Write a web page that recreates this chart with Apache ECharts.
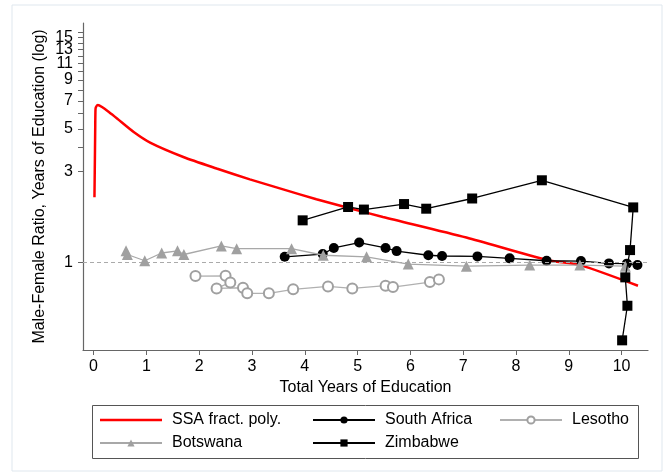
<!DOCTYPE html>
<html>
<head>
<meta charset="utf-8">
<script src="https://cdn.jsdelivr.net/npm/echarts@6/dist/echarts.min.js"></script>
<style>
  html, body { margin: 0; padding: 0; background: #fff; }
  #chart { width: 670px; height: 475px; }
</style>
</head>
<body>
<div id="chart"></div>
<script>
// values
const xTicks = [0, 1, 2, 3, 4, 5, 6, 7, 8, 9, 10];
// the top labels overlap each other, so they are split over twin axes
const yLabels = [1, 3, 5, 7, 9];
const yLabelsB = [11, 15];
const yLabelsC = [13];
const yTicks = [1, 3, 4, 5, 6, 7, 8, 9, 10, 11, 12, 13, 14, 15, 16];

const ssaX = [0.017, 0.027, 0.032, 0.036, 0.042, 0.08, 0.16, 0.29, 0.445, 0.76, 1.08, 1.70, 2.33, 2.96, 3.59, 4.22, 4.85, 5.48, 7.06, 8.58, 9.21, 10.31];
const ssaY = [2.19, 3.86, 5.22, 6.25, 6.46, 6.66, 6.5, 6.12, 5.66, 4.81, 4.22, 3.56, 3.10, 2.72, 2.41, 2.14, 1.92, 1.73, 1.35, 1.03, 0.968, 0.755];

const saX = [3.62, 4.34, 4.55, 5.03, 5.53, 5.74, 6.34, 6.60, 7.27, 7.88, 8.58, 9.23, 9.76, 10.10, 10.30];
const saY = [1.07, 1.105, 1.19, 1.27, 1.19, 1.146, 1.09, 1.08, 1.075, 1.05, 1.02, 1.016, 0.988, 0.985, 0.97];

const lesX = [1.93, 2.50, 2.59, 2.33, 2.83, 2.91, 3.32, 3.78, 4.44, 4.90, 5.53, 5.67, 6.37, 6.54];
const lesY = [0.848, 0.851, 0.786, 0.731, 0.737, 0.689, 0.689, 0.723, 0.749, 0.731, 0.755, 0.743, 0.789, 0.815];

const botX = [0.615, 0.64, 0.97, 1.29, 1.59, 1.71, 2.42, 2.71, 3.75, 4.35, 5.17, 5.96, 7.06, 8.26, 9.21, 10.07];
const botY = [1.15, 1.10, 1.02, 1.12, 1.15, 1.10, 1.22, 1.18, 1.18, 1.09, 1.07, 0.98, 0.956, 0.968, 0.968, 0.956];

const zimX = [3.96, 4.82, 5.12, 5.88, 6.30, 7.17, 8.49, 10.22, 10.16, 10.07, 10.11, 10.01];
const zimY = [1.66, 1.95, 1.89, 2.02, 1.91, 2.16, 2.69, 1.94, 1.16, 0.835, 0.593, 0.391];

const zip = (xs, ys) => xs.map((x, i) => [x, ys[i]]);
const font = "'Liberation Sans', Arial, sans-serif";

const chart = echarts.init(document.getElementById('chart'));

const legendBase = {
  orient: 'vertical',
  top: 411,
  padding: 0,
  itemWidth: 62,
  itemHeight: 9,
  itemGap: 5,
  textStyle: { fontFamily: font, fontSize: 16, lineHeight: 18, color: '#000', padding: [0, 0, 0, 5] },
  selectedMode: false
};

const yLabelStyle = {
  margin: 10, showMinLabel: true, showMaxLabel: true,
  fontFamily: font, fontSize: 16, color: '#000'
};

// twin log axis that only carries labels
const labelAxis = (values) => ({
  type: 'log',
  min: 0.348,
  max: 17.9,
  position: 'left',
  axisLine: { show: false, onZero: false },
  axisTick: { show: false },
  axisLabel: Object.assign({ customValues: values }, yLabelStyle),
  splitLine: { show: false },
  minorTick: { show: false }
});

chart.setOption({
  animation: false,
  grid: { left: 83, right: 22, top: 23, bottom: 125 },
  legend: [
    Object.assign({}, legendBase, {
      left: 99,
      data: [
        { name: 'SSA fract. poly.', icon: 'path://M0,0 L62,0 L62,2.5 L0,2.5 Z', itemStyle: { color: '#ff0000' } },
        'Botswana'
      ]
    }),
    Object.assign({}, legendBase, { left: 312, data: ['South Africa', 'Zimbabwe'] }),
    Object.assign({}, legendBase, { left: 499, data: ['Lesotho'] })
  ],
  graphic: [
    { type: 'rect', shape: { x: 12, y: 5, width: 650, height: 466 },
      style: { fill: 'none', stroke: '#dfe7ee', lineWidth: 1 }, silent: true },
    { type: 'rect', shape: { x: 92.5, y: 405.5, width: 546, height: 53 },
      style: { fill: 'none', stroke: '#555', lineWidth: 1 }, silent: true }
  ],
  xAxis: {
    type: 'value',
    min: -0.2,
    max: 10.5,
    name: 'Total Years of Education',
    nameLocation: 'middle',
    nameGap: 27,
    nameTextStyle: { fontFamily: font, fontSize: 16, color: '#000' },
    axisLine: { onZero: false, lineStyle: { color: '#666', width: 1.2 } },
    axisTick: { length: 5, customValues: xTicks, lineStyle: { color: '#666' } },
    axisLabel: { customValues: xTicks, margin: 9, fontFamily: font, fontSize: 16, color: '#000' },
    splitLine: { show: false }
  },
  yAxis: [
    {
      type: 'log',
      min: 0.348,
      max: 17.9,
      name: 'Male-Female Ratio, Years of Education (log)',
      nameLocation: 'middle',
      nameGap: 35,
      nameTextStyle: { fontFamily: font, fontSize: 16, color: '#000' },
      axisLine: { show: true, onZero: false, lineStyle: { color: '#666', width: 1.2 } },
      axisTick: { show: true, length: 5, customValues: yTicks, lineStyle: { color: '#666' } },
      axisLabel: Object.assign({ customValues: yLabels }, yLabelStyle),
      splitLine: { show: false },
      minorTick: { show: false }
    },
    labelAxis(yLabelsB),
    labelAxis(yLabelsC)
  ],
  series: [
    {
      name: 'SSA fract. poly.',
      type: 'line',
      data: zip(ssaX, ssaY),
      showSymbol: false,
      symbol: 'none',
      smooth: 0.25,
      itemStyle: { color: '#ff0000' },
      lineStyle: { color: '#ff0000', width: 2.5 },
      z: 2
    },
    {
      name: 'South Africa',
      type: 'line',
      data: zip(saX, saY),
      symbol: 'circle',
      symbolSize: 10,
      itemStyle: { color: '#000' },
      lineStyle: { color: '#000', width: 1.3 },
      markLine: {
        silent: true,
        symbol: 'none',
        label: { show: false },
        lineStyle: { color: '#aaa', type: [4, 3], width: 1 },
        data: [{ yAxis: 1 }]
      },
      z: 3
    },
    {
      name: 'Lesotho',
      type: 'line',
      data: zip(lesX, lesY),
      symbol: 'emptyCircle',
      symbolSize: 10,
      itemStyle: { color: '#a0a0a0', borderWidth: 1.2 },
      lineStyle: { color: '#b0b0b0', width: 1.3 },
      z: 4
    },
    {
      name: 'Botswana',
      type: 'line',
      data: zip(botX, botY),
      symbol: 'triangle',
      symbolSize: 11,
      itemStyle: { color: '#a0a0a0' },
      lineStyle: { color: '#a8a8a8', width: 1.3 },
      z: 5
    },
    {
      name: 'Zimbabwe',
      type: 'line',
      data: zip(zimX, zimY),
      symbol: 'rect',
      symbolSize: 10,
      itemStyle: { color: '#000' },
      lineStyle: { color: '#000', width: 1.3 },
      z: 6
    }
  ]
});
</script>
</body>
</html>
